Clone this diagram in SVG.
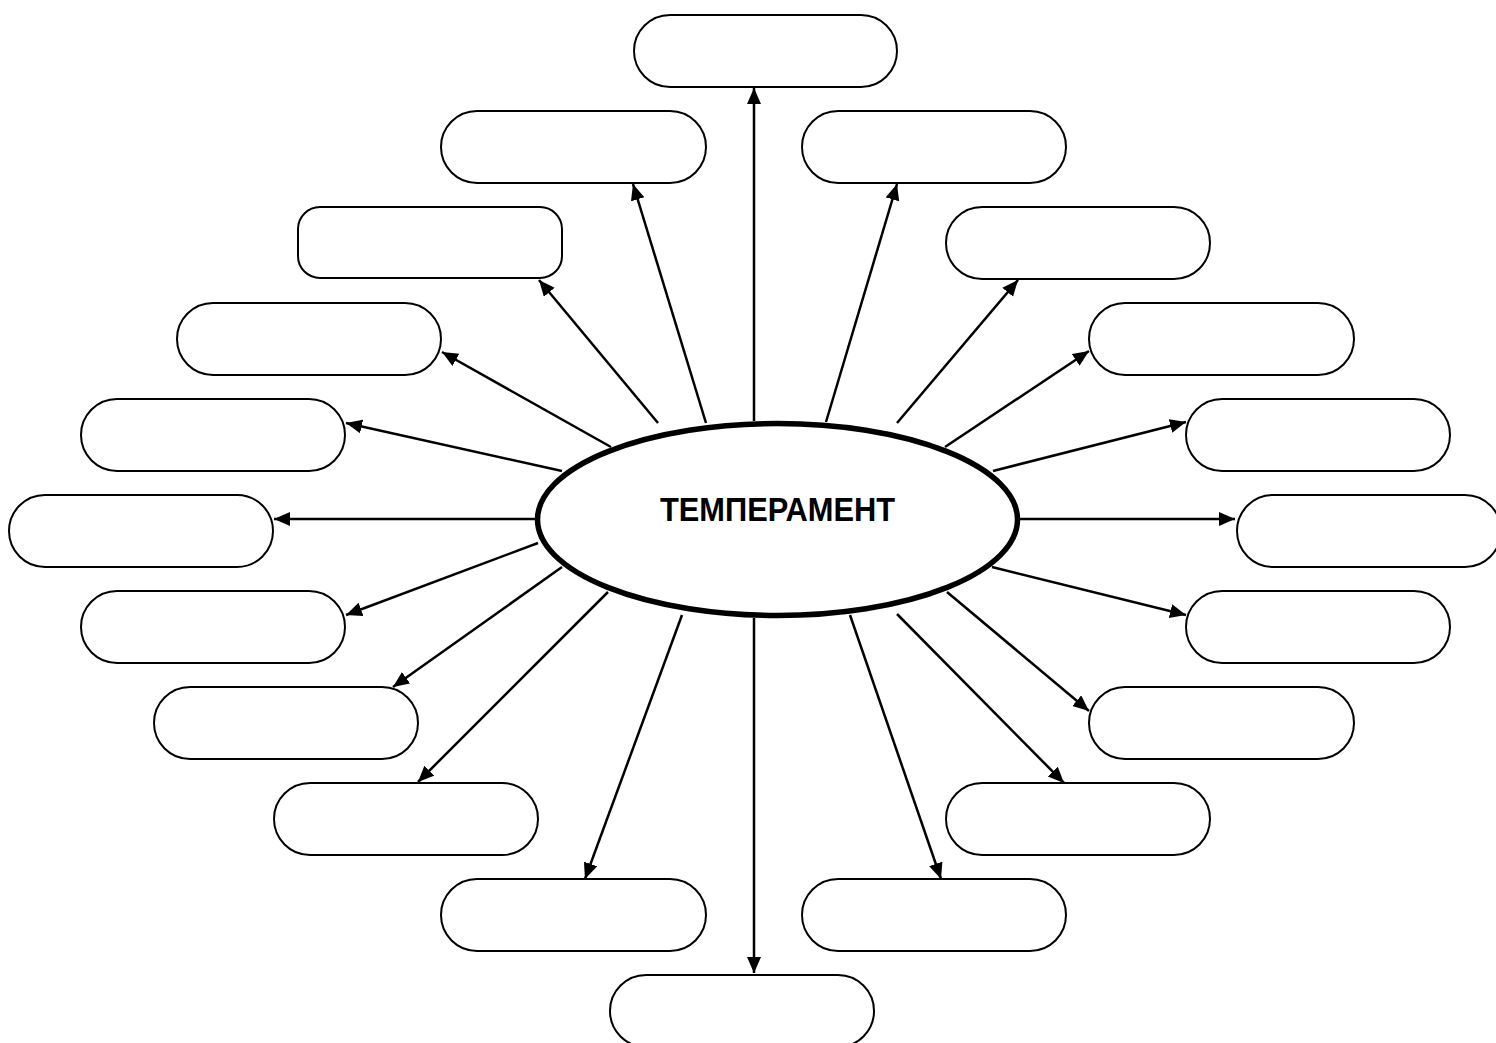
<svg xmlns="http://www.w3.org/2000/svg" width="1496" height="1043" viewBox="0 0 1496 1043">
<style>
.box{fill:#fff;stroke:#000;stroke-width:2}
.conn line{stroke:#000;stroke-width:2.5;marker-end:url(#ah)}
.title{font-family:"Century Gothic","URW Gothic","Liberation Sans",Arial,sans-serif;font-weight:bold;font-size:33px;fill:#000}
</style>
<defs>
<marker id="ah" markerUnits="userSpaceOnUse" markerWidth="18" markerHeight="16" refX="16" refY="7" orient="auto">
<path d="M0,0 L16,7 L0,14 Z" fill="#000"/>
</marker>
</defs>
<rect width="1496" height="1043" fill="#fff"/>
<g id="connectors" class="conn">
<line x1="754" y1="421" x2="754" y2="88"/>
<line x1="754" y1="618" x2="754" y2="973"/>
<line x1="706" y1="423" x2="633" y2="184"/>
<line x1="658" y1="423" x2="539" y2="280"/>
<line x1="611" y1="447" x2="442" y2="352"/>
<line x1="562" y1="471" x2="346" y2="423"/>
<line x1="535" y1="519" x2="274" y2="519"/>
<line x1="538" y1="543" x2="346" y2="615"/>
<line x1="562" y1="567" x2="393" y2="687"/>
<line x1="608" y1="592" x2="418" y2="782"/>
<line x1="682" y1="615" x2="585" y2="879"/>
<line x1="826" y1="422" x2="897" y2="184"/>
<line x1="897" y1="423" x2="1018" y2="280"/>
<line x1="945" y1="447" x2="1089" y2="351"/>
<line x1="993" y1="471" x2="1186" y2="422"/>
<line x1="1020" y1="519" x2="1235" y2="519"/>
<line x1="992" y1="567" x2="1186" y2="615"/>
<line x1="947" y1="592" x2="1089" y2="711"/>
<line x1="897" y1="614" x2="1064" y2="783"/>
<line x1="850" y1="615" x2="941" y2="879"/>
</g>
<g id="center">
<ellipse cx="777.5" cy="519.5" rx="240" ry="96" fill="#fff" stroke="#000" stroke-width="5.5"/>
<text class="title" x="777.5" y="521" text-anchor="middle" textLength="235" lengthAdjust="spacingAndGlyphs">ТЕМПЕРАМЕНТ</text>
</g>
<g id="n1"><rect class="box" x="634" y="15" width="263" height="72" rx="36"/></g>
<g id="n2"><rect class="box" x="441" y="111" width="265" height="72" rx="36"/></g>
<g id="n3"><rect class="box" x="802" y="111" width="264" height="72" rx="36"/></g>
<g id="n4"><rect class="box" x="298" y="207" width="264" height="71" rx="22"/></g>
<g id="n5"><rect class="box" x="946" y="207" width="264" height="72" rx="36"/></g>
<g id="n6"><rect class="box" x="177" y="303" width="264" height="72" rx="36"/></g>
<g id="n7"><rect class="box" x="1089" y="303" width="265" height="72" rx="36"/></g>
<g id="n8"><rect class="box" x="81" y="399" width="264" height="72" rx="36"/></g>
<g id="n9"><rect class="box" x="1186" y="399" width="264" height="72" rx="36"/></g>
<g id="n10"><rect class="box" x="9" y="495" width="264" height="72" rx="36"/></g>
<g id="n11"><rect class="box" x="1237" y="495" width="264" height="72" rx="36"/></g>
<g id="n12"><rect class="box" x="81" y="591" width="264" height="72" rx="36"/></g>
<g id="n13"><rect class="box" x="1186" y="591" width="264" height="72" rx="36"/></g>
<g id="n14"><rect class="box" x="154" y="687" width="264" height="72" rx="36"/></g>
<g id="n15"><rect class="box" x="1089" y="687" width="265" height="72" rx="36"/></g>
<g id="n16"><rect class="box" x="274" y="783" width="264" height="72" rx="36"/></g>
<g id="n17"><rect class="box" x="946" y="783" width="264" height="72" rx="36"/></g>
<g id="n18"><rect class="box" x="441" y="879" width="265" height="72" rx="36"/></g>
<g id="n19"><rect class="box" x="802" y="879" width="264" height="72" rx="36"/></g>
<g id="n20"><rect class="box" x="610" y="975" width="264" height="72" rx="36"/></g>
</svg>
